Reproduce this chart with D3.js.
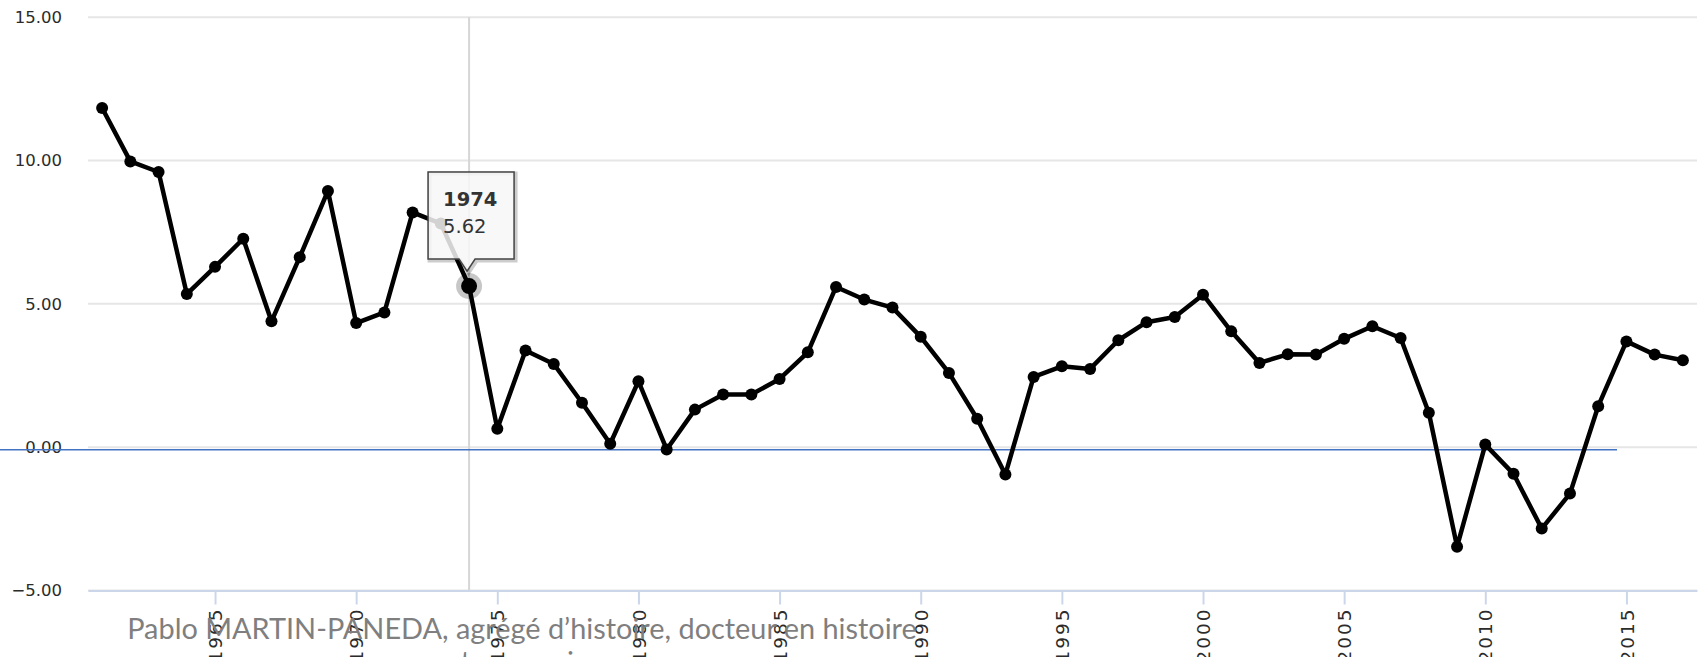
<!DOCTYPE html>
<html>
<head>
<meta charset="utf-8">
<script src="https://cdn.jsdelivr.net/npm/d3@7"></script>
<style>
	body { margin: 0; background: #fff; }
	svg { display: block; }
</style>
</head>
<body>
<div id="chart"></div>
<script>
// categories : one point per year, 1961 -> 2017
const years = d3.range(1961, 2018);
// series values
const values = [
	11.83, 9.97, 9.60, 5.34, 6.29, 7.27, 4.39, 6.63, 8.94, 4.33,
	4.70, 8.19, 7.80, 5.62, 0.64, 3.37, 2.90, 1.55, 0.12, 2.30,
	-0.08, 1.31, 1.84, 1.84, 2.38, 3.31, 5.59, 5.15, 4.87, 3.85,
	2.59, 0.99, -0.95, 2.45, 2.82, 2.73, 3.73, 4.36, 4.54, 5.32,
	4.04, 2.94, 3.24, 3.23, 3.78, 4.22, 3.81, 1.20, -3.47, 0.09,
	-0.93, -2.84, -1.62, 1.43, 3.69, 3.23, 3.03
];
const xTicks = [1965, 1970, 1975, 1980, 1985, 1990, 1995, 2000, 2005, 2010, 2015];
const yTicks = [-5, 0, 5, 10, 15];
const hoverYear = 1974;
const footerLines = ["Pablo MARTIN-PANEDA, agrégé d\u2019histoire, docteur en histoire", "contemporaine"];

const width = 1704, height = 657;
const plotLeft = 88, plotRight = 1697, plotTop = 17.2, plotBottom = 590.5;

const data = years.map((y, i) => ({ year: y, value: values[i] }));

const svg = d3.select("#chart").append("svg")
	.attr("width", width)
	.attr("height", height)
	.style("background", "#fff");

const x = d3.scalePoint().domain(years).range([plotLeft, plotRight]).padding(0.5);
const y = d3.scaleLinear().domain([-5, 15]).range([plotBottom, plotTop]);

// grid lines
svg.append("g")
	.selectAll("line")
	.data(yTicks)
	.enter().append("line")
	.attr("x1", plotLeft).attr("x2", plotRight)
	.attr("y1", d => y(d)).attr("y2", d => y(d))
	.attr("stroke", "#e6e6e6")
	.attr("stroke-width", 2);

// y axis labels
const yAxis = svg.append("g")
	.attr("transform", `translate(${plotLeft - 26},0)`)
	.call(d3.axisLeft(y).tickValues(yTicks).tickSize(0).tickPadding(0).tickFormat(d3.format(".2f")));
yAxis.select(".domain").remove();
yAxis.selectAll("text")
	.attr("font-family", "DejaVu Sans, sans-serif")
	.attr("font-size", 16.5)
	.attr("fill", "#2b2b2b");

// crosshair on hovered year
svg.append("line")
	.attr("x1", x(hoverYear)).attr("x2", x(hoverYear))
	.attr("y1", plotTop).attr("y2", plotBottom)
	.attr("stroke", "#d6d6d6")
	.attr("stroke-width", 2);

// x axis
const xAxis = svg.append("g")
	.attr("transform", `translate(0,${plotBottom})`)
	.call(d3.axisBottom(x).tickValues(xTicks).tickSize(14).tickSizeOuter(0));
xAxis.select(".domain")
	.attr("stroke", "#ccd6eb")
	.attr("stroke-width", 2);
xAxis.selectAll(".tick line")
	.attr("stroke", "#ccd6eb")
	.attr("stroke-width", 2);
xAxis.selectAll("text")
	.attr("transform", "rotate(-90)")
	.attr("x", -17)
	.attr("y", 0)
	.attr("dy", "0.36em")
	.attr("text-anchor", "end")
	.attr("font-family", "DejaVu Sans, sans-serif")
	.attr("font-size", 18.5)
	.attr("letter-spacing", 2)
	.attr("fill", "#2b2b2b");

// blue line drawn over the zero line
svg.append("line")
	.attr("x1", 0).attr("x2", 1617)
	.attr("y1", y(0) + 2.5).attr("y2", y(0) + 2.5)
	.attr("stroke", "#4472c4")
	.attr("stroke-width", 1.5);

// series
const line = d3.line().x(d => x(d.year)).y(d => y(d.value));
svg.append("path")
	.datum(data)
	.attr("d", line)
	.attr("fill", "none")
	.attr("stroke", "#000")
	.attr("stroke-width", 4.5)
	.attr("stroke-linejoin", "round");

svg.append("g")
	.selectAll("circle")
	.data(data)
	.enter().append("circle")
	.attr("cx", d => x(d.year))
	.attr("cy", d => y(d.value))
	.attr("r", 6)
	.attr("fill", "#000");

// hovered point
const hp = data.find(d => d.year == hoverYear);
const px = x(hp.year), py = y(hp.value);
svg.append("circle").attr("cx", px).attr("cy", py).attr("r", 13)
	.attr("fill", "rgba(0,0,0,0.22)");
svg.append("circle").attr("cx", px).attr("cy", py).attr("r", 8)
	.attr("fill", "#000");

// tooltip
const bx0 = px - 41, bx1 = px + 45, by0 = py - 114, by1 = py - 27;
const tip = `M${bx0},${by0} L${bx1},${by0} L${bx1},${by1} L${px + 6},${by1} L${px - 2},${py - 15} L${px - 10},${by1} L${bx0},${by1} Z`;
const tt = svg.append("g");
tt.append("path")
	.attr("d", tip)
	.attr("transform", "translate(1.5,1.5)")
	.attr("fill", "none")
	.attr("stroke", "rgba(0,0,0,0.2)")
	.attr("stroke-width", 4);
tt.append("path")
	.attr("d", tip)
	.attr("fill", "rgba(247,247,247,0.85)")
	.attr("stroke", "#444")
	.attr("stroke-width", 1.5);
tt.append("text")
	.attr("x", bx0 + 15).attr("y", py - 80)
	.attr("font-family", "DejaVu Sans, sans-serif")
	.attr("font-size", 19.5)
	.attr("font-weight", "bold")
	.attr("fill", "#333")
	.text(hp.year);
tt.append("text")
	.attr("x", bx0 + 15).attr("y", py - 53)
	.attr("font-family", "DejaVu Sans, sans-serif")
	.attr("font-size", 19.5)
	.attr("fill", "#333")
	.text(hp.value.toFixed(2));

// footer text box laid over the chart
const f1 = svg.append("text")
	.attr("x", 522).attr("y", 639)
	.attr("text-anchor", "middle")
	.attr("font-family", "Lato, sans-serif")
	.attr("font-size", 27)
	.attr("fill", "#7f7f7f")
	.text(footerLines[0]);
const fs = 27 * 790 / f1.node().getComputedTextLength();
f1.attr("font-size", fs);
svg.append("text")
	.attr("x", 510).attr("y", 672)
	.attr("text-anchor", "middle")
	.attr("font-family", "Lato, sans-serif")
	.attr("font-size", fs)
	.attr("fill", "#7f7f7f")
	.text(footerLines[1]);
</script>
</body>
</html>
